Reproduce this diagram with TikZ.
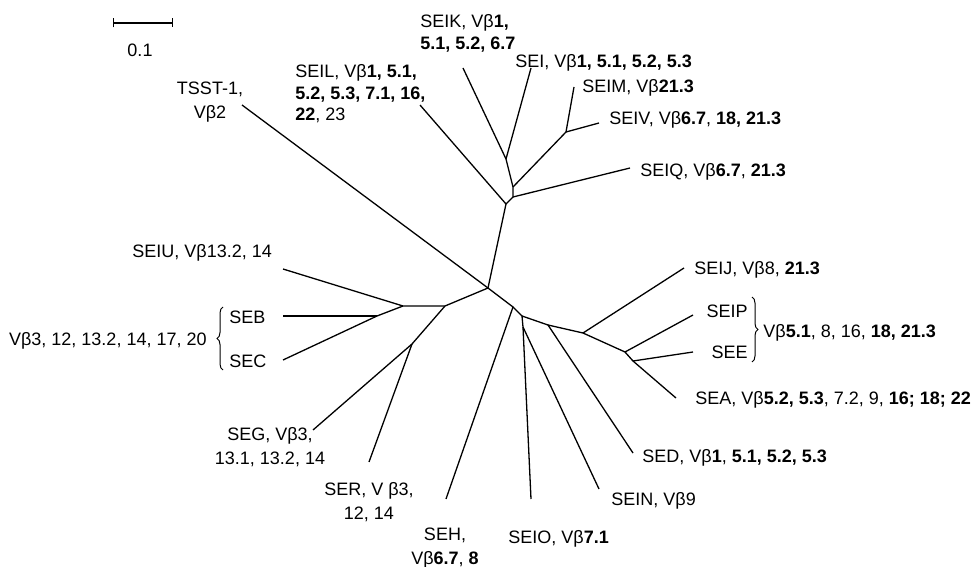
\documentclass[tikz,border=0pt]{standalone}
\usepackage{fontspec}
\setmainfont{Liberation Sans}
\usepackage{tikz}
\usetikzlibrary{arrows.meta,decorations.pathreplacing}

\begin{document}
\begin{tikzpicture}[
    x=0.5pt, y=-0.5pt,
    branch/.style={line width=0.65pt},
    lbl/.style={inner sep=0pt, font=\fontsize{9}{12}\selectfont},
    tight/.style={font=\fontsize{9}{10.75}\selectfont},
    grp/.style={line width=0.5pt, decorate, decoration={brace, amplitude=3pt}}
]
    \useasboundingbox (0,0) rectangle (971,567);

    % scale bar
    \coordinate (s0) at (113,23);
    \coordinate (s1) at (173,23);
    \draw[branch, {Bar[width=4.5pt]}-{Bar[width=4.5pt]}] (s0) -- (s1);
    \node[lbl, anchor=base] (scale) at (140,57) {0.1};

    % inner nodes of the tree
    \coordinate (c0) at (488,288);
    \coordinate (n1) at (506,204);
    \coordinate (nq) at (513,197);
    \coordinate (na) at (513,187);
    \coordinate (nk) at (506,159);
    \coordinate (nm) at (566,132);
    \coordinate (l2) at (445,306);
    \coordinate (l1) at (403,306);
    \coordinate (bc) at (377,316);
    \coordinate (l3) at (412,344);
    \coordinate (j1) at (513,307);
    \coordinate (j2) at (522,316);
    \coordinate (jo) at (523,327);
    \coordinate (j3) at (548,325);
    \coordinate (j4) at (583,333);
    \coordinate (j5) at (625,352);
    \coordinate (j6) at (633,361);

    % leaves
    \coordinate (tsst) at (242,105);
    \coordinate (seil) at (420,105);
    \coordinate (seik) at (463,68);
    \coordinate (sei) at (531,68);
    \coordinate (seim) at (574,87);
    \coordinate (seiv) at (599,123);
    \coordinate (seiq) at (630,168);
    \coordinate (seiu) at (283,269);
    \coordinate (seb) at (283,316);
    \coordinate (sec) at (283,360);
    \coordinate (seg) at (313,430);
    \coordinate (ser) at (369,462);
    \coordinate (seh) at (446,499);
    \coordinate (seio) at (531,499);
    \coordinate (sein) at (599,489);
    \coordinate (sed) at (633,453);
    \coordinate (seij) at (684,268);
    \coordinate (seip) at (693,315);
    \coordinate (see) at (693,352);
    \coordinate (sea) at (676,398);

    % branches
    \draw[branch] (tsst) -- (c0);
    \draw[branch] (c0) -- (n1) -- (nq) -- (na) -- (nk);
    \draw[branch] (n1) -- (seil);
    \draw[branch] (nk) -- (seik);
    \draw[branch] (nk) -- (sei);
    \draw[branch] (na) -- (nm) -- (seim);
    \draw[branch] (nm) -- (seiv);
    \draw[branch] (nq) -- (seiq);
    \draw[branch] (c0) -- (l2) -- (l1) -- (seiu);
    \draw[branch] (l1) -- (bc) -- (sec);
    \draw[branch] (bc) -- (seb);
    \draw[branch] (l2) -- (l3) -- (seg);
    \draw[branch] (l3) -- (ser);
    \draw[branch] (c0) -- (j1) -- (seh);
    \draw[branch] (j1) -- (j2) -- (jo) -- (seio);
    \draw[branch] (jo) -- (sein);
    \draw[branch] (j2) -- (j3) -- (sed);
    \draw[branch] (j3) -- (j4) -- (seij);
    \draw[branch] (j4) -- (j5) -- (seip);
    \draw[branch] (j5) -- (j6) -- (see);
    \draw[branch] (j6) -- (sea);

    % labels
    \node[lbl, anchor=north, align=center] (tTSST) at (210,81.5) {TSST-1,\\Vβ2};
    \node[lbl, tight, anchor=north west, align=left] (tSEIL) at (295,64.5)
        {SEIL, Vβ\textbf{1, 5.1,}\\\textbf{5.2, 5.3, 7.1, 16,}\\\textbf{22}, 23};
    \node[lbl, tight, anchor=north west, align=left] (tSEIK) at (420,14.5)
        {SEIK, Vβ\textbf{1,}\\\textbf{5.1, 5.2, 6.7}};
    \node[lbl, anchor=base west] (tSEI) at (515,68) {SEI, Vβ\textbf{1, 5.1, 5.2, 5.3}};
    \node[lbl, anchor=base west] (tSEIM) at (582,93) {SEIM, Vβ\textbf{21.3}};
    \node[lbl, anchor=base west] (tSEIV) at (609,125) {SEIV, Vβ\textbf{6.7}, \textbf{18, 21.3}};
    \node[lbl, anchor=base west] (tSEIQ) at (640,177) {SEIQ, Vβ\textbf{6.7}, \textbf{21.3}};
    \node[lbl, anchor=base west] (tSEIJ) at (694,275) {SEIJ, Vβ8, \textbf{21.3}};
    \node[lbl, anchor=base east] (tSEIP) at (748,318) {SEIP};
    \node[lbl, anchor=base east] (tSEE) at (748,358) {SEE};
    \node[lbl, anchor=base west] (tPE) at (763,337) {Vβ\textbf{5.1}, 8, 16, \textbf{18, 21.3}};
    \node[lbl, anchor=base west] (tSEA) at (695,405) {SEA, Vβ\textbf{5.2, 5.3}, 7.2, 9, \textbf{16; 18; 22}};
    \node[lbl, anchor=base west] (tSED) at (642,462) {SED, Vβ\textbf{1}, \textbf{5.1, 5.2, 5.3}};
    \node[lbl, anchor=base west] (tSEIN) at (611,505) {SEIN, Vβ9};
    \node[lbl, anchor=base west] (tSEIO) at (508,543) {SEIO, Vβ\textbf{7.1}};
    \node[lbl, anchor=north, align=center] (tSEH) at (445,527.5) {SEH,\\Vβ\textbf{6.7}, \textbf{8}};
    \node[lbl, anchor=north, align=center] (tSER) at (369,482.5) {SER, V β3,\\12, 14};
    \node[lbl, anchor=north, align=center] (tSEG) at (270,427.5) {SEG, Vβ3,\\13.1, 13.2, 14};
    \node[lbl, anchor=base west] (tSEIU) at (132,258) {SEIU, Vβ13.2, 14};
    \node[lbl, anchor=base west] (tSEB) at (229,323) {SEB};
    \node[lbl, anchor=base west] (tSEC) at (229,368) {SEC};
    \node[lbl, anchor=base east] (tBC) at (207,345) {Vβ3, 12, 13.2, 14, 17, 20};

    % group braces
    \coordinate (bl0) at (223,370);
    \coordinate (bl1) at (223,307);
    \coordinate (br0) at (752,297);
    \coordinate (br1) at (752,362);
    \draw[grp] (bl0) -- (bl1);
    \draw[grp] (br0) -- (br1);
\end{tikzpicture}
\end{document}
